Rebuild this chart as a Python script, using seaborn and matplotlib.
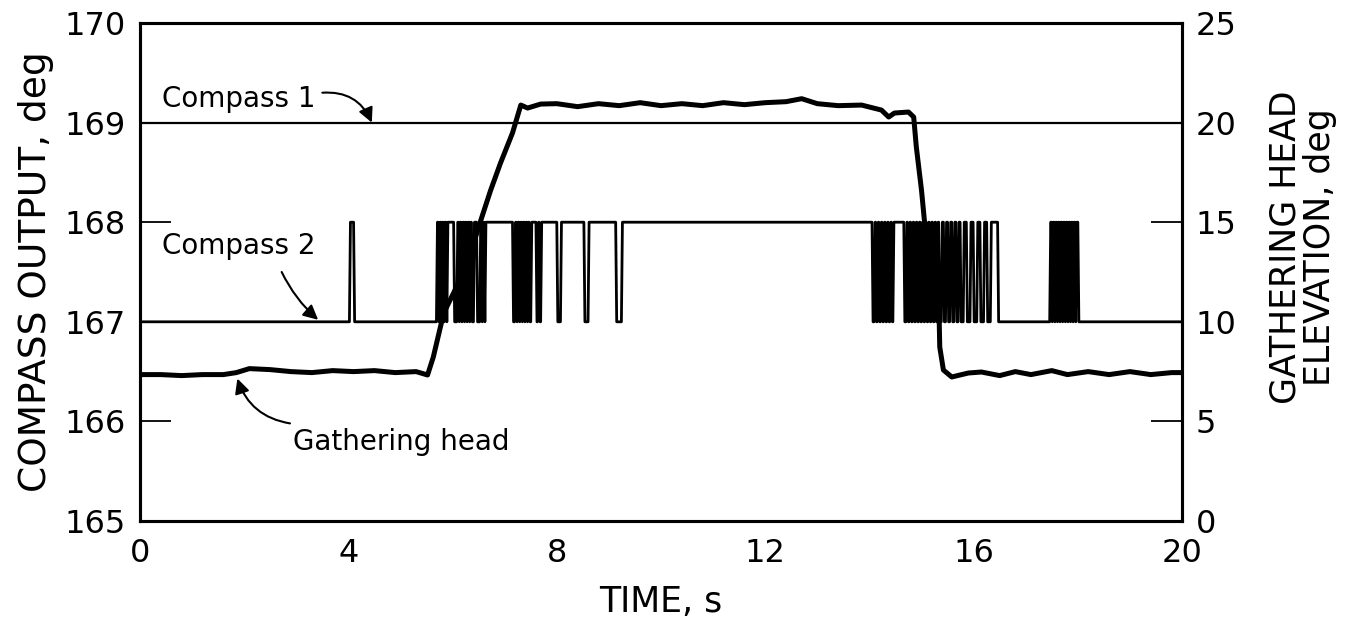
import numpy as np
import pandas as pd
import matplotlib
matplotlib.use("Agg")
import matplotlib.pyplot as plt
import seaborn as sns
from matplotlib.ticker import MultipleLocator

# ---------------- data ----------------
time_ticks = [0, 4, 8, 12, 16, 20]
left_ticks = [165, 166, 167, 168, 169, 170]
right_ticks = [0, 5, 10, 15, 20, 25]

compass1_t = [0.0, 20.0]
compass1_v = [169.0, 169.0]

compass2_low = 167.0
compass2_high_level = 168.0
# intervals (start, end) in seconds where Compass 2 reads 168 deg
compass2_high = [
    (4.02, 4.10),
    (5.69, 5.72), (5.74, 5.77), (5.79, 5.82), (5.84, 5.87), (5.89, 6.02),
    (6.08, 6.11), (6.13, 6.16), (6.18, 6.21), (6.23, 6.26), (6.28, 6.31), (6.33, 6.36),
    (6.40, 6.46),
    (6.52, 6.55), (6.57, 6.60), (6.62, 7.15),
    (7.19, 7.22), (7.24, 7.27), (7.29, 7.32), (7.34, 7.37), (7.39, 7.42), (7.44, 7.47), (7.50, 7.60),
    (7.63, 7.66), (7.69, 8.00),
    (8.07, 8.52), (8.60, 9.13), (9.24, 14.05),
    (14.09, 14.12), (14.15, 14.18), (14.21, 14.24), (14.27, 14.30), (14.33, 14.36), (14.39, 14.42), (14.45, 14.66),
    (14.70, 14.73), (14.76, 14.79), (14.82, 14.85), (14.88, 14.91), (14.94, 14.97), (15.00, 15.03),
    (15.06, 15.09), (15.12, 15.15), (15.18, 15.21), (15.24, 15.27), (15.30, 15.33),
    (15.38, 15.42), (15.46, 15.50), (15.54, 15.58), (15.62, 15.66), (15.70, 15.74),
    (15.80, 15.86), (15.93, 15.99), (16.06, 16.12), (16.19, 16.25), (16.32, 16.46),
    (17.46, 17.49), (17.51, 17.54), (17.56, 17.59), (17.61, 17.64), (17.66, 17.69), (17.71, 17.74),
    (17.76, 17.79), (17.81, 17.84), (17.86, 17.89), (17.91, 17.94), (17.96, 18.00),
]

gathering_t = [0.0, 0.4, 0.8, 1.2, 1.6, 1.85, 2.1, 2.5, 2.9, 3.3, 3.7, 4.1, 4.5, 4.9, 5.3,
               5.52, 5.63, 5.83, 6.02, 6.29, 6.50, 6.73, 6.92, 7.15, 7.31, 7.44, 7.69,
               8.0, 8.4, 8.8, 9.2, 9.6, 10.0, 10.4, 10.8, 11.2, 11.6, 12.0, 12.4, 12.7,
               13.0, 13.4, 13.85, 14.23, 14.37, 14.48, 14.75, 14.85, 14.90, 15.0, 15.06,
               15.23, 15.33, 15.35, 15.42, 15.58, 15.9, 16.15, 16.5, 16.8, 17.1, 17.5,
               17.8, 18.2, 18.6, 19.0, 19.4, 19.8, 20.0]
gathering_v = [7.35, 7.35, 7.3, 7.35, 7.35, 7.45, 7.65, 7.6, 7.5, 7.45, 7.55, 7.5, 7.55, 7.45, 7.5,
               7.33, 8.23, 10.44, 11.45, 12.95, 14.76, 16.6, 17.97, 19.48, 20.88, 20.73, 20.93,
               20.95, 20.8, 20.95, 20.85, 21.0, 20.85, 20.95, 20.85, 21.0, 20.9, 21.0, 21.05, 21.2,
               20.95, 20.85, 20.88, 20.63, 20.28, 20.48, 20.53, 20.28, 18.78, 16.6, 14.96,
               12.95, 11.24, 8.73, 7.58, 7.23, 7.43, 7.48, 7.3, 7.5, 7.35, 7.55,
               7.35, 7.5, 7.35, 7.5, 7.35, 7.45, 7.45]

# ---------------- build step trace for compass 2 ----------------
edge = 0.02
c2_t = [0.0]
c2_v = [compass2_low]
for a, b in compass2_high:
    c2_t += [a, a + edge, b, b + edge]
    c2_v += [compass2_low, compass2_high_level, compass2_high_level, compass2_low]
c2_t.append(20.0)
c2_v.append(compass2_low)

df_c1 = pd.DataFrame({"t": compass1_t, "v": compass1_v})
df_c2 = pd.DataFrame({"t": c2_t, "v": c2_v})
df_gh = pd.DataFrame({"t": gathering_t, "v": gathering_v})

# ---------------- figure ----------------
sns.set_theme(style="white")
plt.rcParams["font.family"] = ["DejaVu Sans"]
plt.rcParams["text.color"] = "black"
plt.rcParams["axes.labelcolor"] = "black"
plt.rcParams["xtick.color"] = "black"
plt.rcParams["ytick.color"] = "black"
plt.rcParams["path.simplify"] = False

fig = plt.figure(figsize=(13.64, 6.23), dpi=100)
ax = fig.add_axes([0.1026, 0.1637, 0.7640, 0.7994])
ax2 = ax.twinx()

sns.lineplot(data=df_c1, x="t", y="v", ax=ax, color="black", linewidth=1.6,
             estimator=None, sort=False)
sns.lineplot(data=df_c2, x="t", y="v", ax=ax, color="black", linewidth=2.0,
             estimator=None, sort=False)
sns.lineplot(data=df_gh, x="t", y="v", ax=ax2, color="black", linewidth=3.6,
             estimator=None, sort=False)

ax.set_xlim(0, 20)
ax.set_ylim(165, 170)
ax2.set_ylim(0, 25)

ax.set_xticks(time_ticks)
ax.set_xticklabels([str(t) for t in time_ticks])
ax.xaxis.set_minor_locator(MultipleLocator(2))
ax.set_yticks(left_ticks)
ax.set_yticklabels([str(t) for t in left_ticks])
ax2.set_yticks(right_ticks)
ax2.set_yticklabels([str(t) for t in right_ticks])

fs_tick = 23
ax.tick_params(axis="x", which="major", direction="in", length=18, width=1.3,
               labelsize=fs_tick, pad=12, top=False, colors="black")
ax.tick_params(axis="x", which="minor", direction="in", length=9, width=1.3, top=False)
ax.tick_params(axis="y", which="major", direction="in", length=22, width=1.3,
               labelsize=fs_tick, pad=10, right=False, colors="black")
ax2.tick_params(axis="y", which="major", direction="in", length=22, width=1.3,
                labelsize=fs_tick, pad=10, colors="black")

for a_ in (ax, ax2):
    for s in a_.spines.values():
        s.set_color("black")
        s.set_linewidth(2.2)

ax.set_xlabel("TIME, s", fontsize=25, labelpad=12, color="black")
ax.set_ylabel("COMPASS OUTPUT, deg", fontsize=27, labelpad=8, color="black")
ax2.set_ylabel("GATHERING HEAD\nELEVATION, deg", fontsize=25, rotation=90,
               linespacing=1.0, color="black")
ax2.yaxis.set_label_coords(1.083, 0.55)

# annotations
fs_ann = 20
ax.text(0.42, 169.24, "Compass 1", fontsize=fs_ann, ha="left", va="center", color="black")
ax.annotate("", xy=(4.45, 169.0), xytext=(3.50, 169.30),
            arrowprops=dict(arrowstyle="-|>", color="black", lw=1.5,
                            mutation_scale=22, shrinkA=0, shrinkB=0,
                            connectionstyle="arc3,rad=-0.35"))
ax.text(0.42, 167.76, "Compass 2", fontsize=fs_ann, ha="left", va="center", color="black")
ax.annotate("", xy=(3.42, 167.02), xytext=(2.72, 167.50),
            arrowprops=dict(arrowstyle="-|>", color="black", lw=1.5,
                            mutation_scale=22, shrinkA=0, shrinkB=0,
                            connectionstyle="arc3,rad=0.1"))
ax.text(2.94, 165.79, "Gathering head", fontsize=fs_ann, ha="left", va="center", color="black")
ax.annotate("", xy=(1.87, 166.43), xytext=(2.88, 165.98),
            arrowprops=dict(arrowstyle="-|>", color="black", lw=1.5,
                            mutation_scale=22, shrinkA=0, shrinkB=0,
                            connectionstyle="arc3,rad=-0.3"))

fig.savefig("out.png", dpi=100, facecolor="white")
